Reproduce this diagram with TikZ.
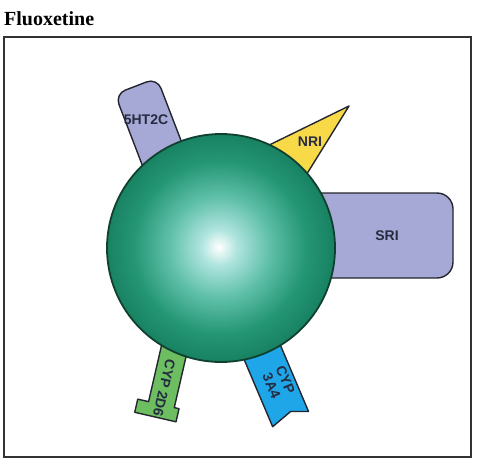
\documentclass[tikz,border=0pt]{standalone}
\usepackage{fontspec}
\setmainfont{Liberation Serif}
\setsansfont{Liberation Sans}

\definecolor{edgegray}{RGB}{35,38,46}
\definecolor{framegray}{RGB}{50,50,50}
\definecolor{lavender}{RGB}{166,168,214}
\definecolor{nriyellow}{RGB}{248,218,72}
\definecolor{cypgreen}{RGB}{108,190,96}
\definecolor{cypblue}{RGB}{30,166,232}
\definecolor{labeltext}{RGB}{38,44,64}
\definecolor{ballrim}{RGB}{16,64,46}
\definecolor{ballhi}{RGB}{175,228,222}
\definecolor{ballmid}{RGB}{96,192,170}
\definecolor{ballgreen}{RGB}{36,150,116}
\definecolor{balledge}{RGB}{24,130,98}

\pgfdeclareradialshading{fluoball}{\pgfpoint{-0.5bp}{0.2bp}}{%
  color(0bp)=(white); color(4bp)=(ballhi); color(11bp)=(ballmid);
  color(19bp)=(ballgreen); color(25bp)=(balledge); color(50bp)=(balledge)}

\tikzset{
  heading/.style={font=\bfseries\fontsize{20}{22}\selectfont, inner sep=0pt},
  frame/.style={draw=framegray, line width=1.3pt},
  limb/.style={draw=edgegray, line width=1.4pt, line join=round},
  lbl/.style={font=\sffamily\bfseries\fontsize{14}{15}\selectfont, text=labeltext, inner sep=0pt},
  corebody/.style={circle, draw=ballrim, line width=1.8pt, shading=fluoball,
                   minimum size=228pt, inner sep=0pt},
}

\begin{document}
\begin{tikzpicture}[x=1pt, y=-1pt]
  \useasboundingbox (0,0) rectangle (479,461);
  \node[heading, anchor=base west] (title) at (4,25) {Fluoxetine};
  \draw[frame] (4,37) rectangle (471,457);

  % 5HT2C
  \begin{scope}[shift={(136,86)}, rotate=21]
    \draw[limb, fill=lavender, rounded corners=11pt]
      (-22.5,100) -- (-22.5,0) -- (22.5,0) -- (22.5,100) -- cycle;
  \end{scope}
  \node[lbl] (l5ht) at (146,120) {5HT2C};

  % NRI
  \draw[limb, fill=nriyellow] (349,106) -- (257,151) -- (300,185) -- cycle;
  \node[lbl] (lnri) at (310,142) {NRI};

  % SRI
  \draw[limb, fill=lavender, rounded corners=16pt]
    (300,193) -- (453,193) -- (453,278) -- (300,278) -- cycle;
  \node[lbl] (lsri) at (387,236) {SRI};

  % CYP 2D6
  \begin{scope}[shift={(158.4,403.9)}, rotate=-13]
    \draw[limb, fill=cypgreen]
      (-10.1,-70) -- (-10.1,0) -- (-21.2,0) -- (-21.2,13.5)
      -- (21.2,13.5) -- (21.2,0) -- (16.3,0) -- (16.3,-70) -- cycle;
    \node[lbl, rotate=-103] (l2d6) at (2,-17) {CYP 2D6};
  \end{scope}

  % CYP 3A4
  \begin{scope}[shift={(290.6,419.1)}, rotate=23]
    \draw[limb, fill=cypblue]
      (-19.5,-95) -- (-19.5,0) -- (3,-7) -- (19.5,0) -- (19.5,-95) -- cycle;
    \node[lbl, rotate=-67, align=center] (l3a4) at (3,-38) {CYP\\3A4};
  \end{scope}

  % molecule
  \node[corebody] (core) at (221,248) {};
\end{tikzpicture}
\end{document}
